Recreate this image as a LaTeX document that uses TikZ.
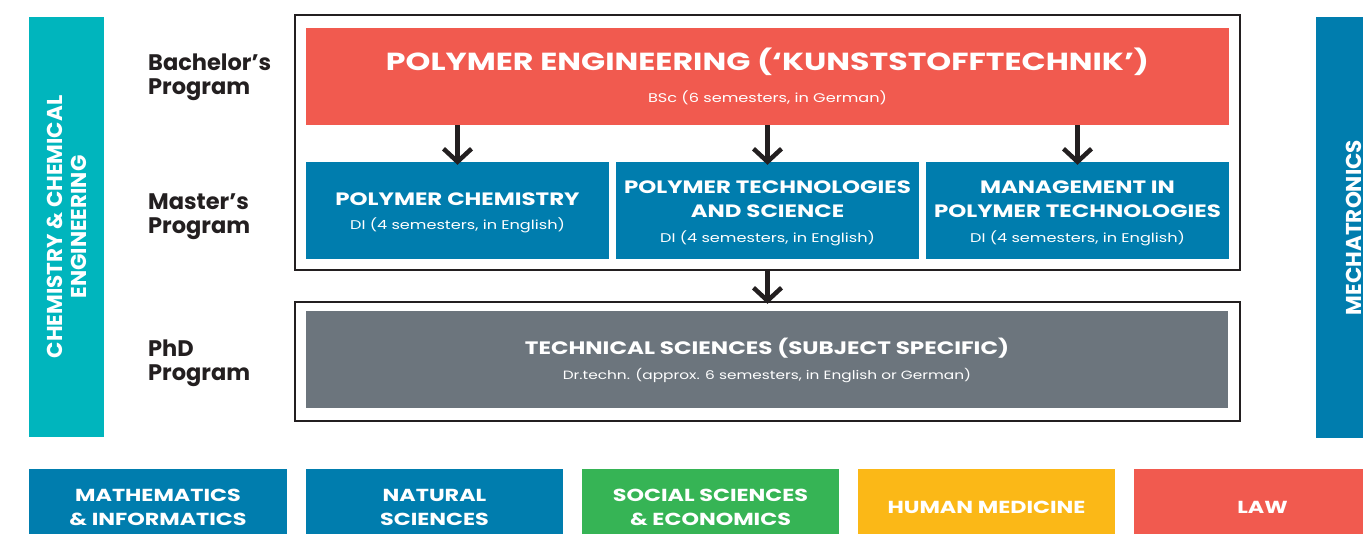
\documentclass[tikz,border=0pt]{standalone}
\usepackage{fontspec}
\setmainfont{Poppins}
\newfontfamily\boxfont[FakeStretch=1.28]{Poppins}
\usetikzlibrary{arrows.meta}
\definecolor{chemteal}{HTML}{00B5BD}
\definecolor{progblue}{HTML}{007DAE}
\definecolor{progred}{HTML}{F15A4F}
\definecolor{proggray}{HTML}{6C757D}
\definecolor{proggreen}{HTML}{36B455}
\definecolor{progyellow}{HTML}{FBB817}
\definecolor{framegray}{HTML}{231F20}
\newcommand{\progsub}[1]{{\mdseries\fontsize{12.6}{16}\selectfont #1}}
\newcommand{\topstrut}{\rule{0pt}{18pt}}

\tikzset{
	progbox/.style={draw=none, text=white, inner sep=0pt, align=center, minimum height=97pt, font=\boxfont\bfseries\fontsize{17.9}{24}\selectfont},
	framebox/.style={draw=framegray, line width=2.4pt, inner sep=0pt, minimum width=945pt},
	sidebar/.style={text=white, inner sep=0pt, align=center, rotate=90, font=\bfseries\fontsize{21.5}{24}\selectfont},
	facbox/.style={text=white, inner sep=0pt, align=center, minimum height=76pt, minimum width=257pt, font=\boxfont\bfseries\fontsize{17.4}{24}\selectfont},
	levellabel/.style={anchor=west, align=left, inner sep=0pt, text=framegray, font=\bfseries\fontsize{22.5}{24}\selectfont},
	flowarrow/.style={draw=framegray, line width=4.5pt, -{Straight Barb[length=13pt, width=28pt]}}
}

\begin{document}
\begin{tikzpicture}[x=1pt,y=-1pt]
	\useasboundingbox (0,0) rectangle (1363,533);

	% frames
	\node[framebox, minimum height=255pt] (bmframe) at (767.5,142.5) {};
	\node[framebox, minimum height=119pt] (phdframe) at (767.5,361.5) {};

	% programs
	\node[progbox, fill=progred, minimum width=923pt, font=\boxfont\bfseries\fontsize{24.7}{24}\selectfont] (bsc) at (767.5,76.5)
		{\rule{0pt}{21pt}POLYMER ENGINEERING (‘KUNSTSTOFFTECHNIK’)\\[8pt]\progsub{BSc (6 semesters, in German)}};
	\node[progbox, fill=progblue, minimum width=303pt] (pc) at (457.5,210.5)
		{\topstrut POLYMER CHEMISTRY\\[0pt]\progsub{DI (4 semesters, in English)}};
	\node[progbox, fill=progblue, minimum width=303pt] (pts) at (767.5,210.5)
		{\topstrut POLYMER TECHNOLOGIES\\AND SCIENCE\\[1pt]\progsub{DI (4 semesters, in English)}};
	\node[progbox, fill=progblue, minimum width=303pt] (mpt) at (1077.5,210.5)
		{\topstrut MANAGEMENT IN\\POLYMER TECHNOLOGIES\\[1pt]\progsub{DI (4 semesters, in English)}};
	\node[progbox, fill=proggray, minimum width=922pt, font=\boxfont\bfseries\fontsize{18}{24}\selectfont] (tsc) at (767,359.5)
		{\topstrut TECHNICAL SCIENCES (SUBJECT SPECIFIC)\\[1pt]{\mdseries\fontsize{12}{16}\selectfont Dr.techn. (approx. 6 semesters, in English or German)}};

	% level labels
	\node[levellabel] (bachelor) at (148,77) {Bachelor’s\\Program};
	\node[levellabel] (master) at (148,217) {Master’s\\Program};
	\node[levellabel] (phd) at (148,363) {PhD\\Program};

	% side bars
	\node[fill=chemteal, minimum width=75pt, minimum height=420pt] (chembar) at (66.5,227) {};
	\node[sidebar] (chemtext) at (chembar.center) {CHEMISTRY \& CHEMICAL\\ENGINEERING};
	\node[fill=progblue, minimum width=75pt, minimum height=421pt] (mechbar) at (1353.5,227.5) {};
	\node[sidebar] (mechtext) at (mechbar.center) {MECHATRONICS};

	% faculties
	\node[facbox, fill=progblue, minimum width=258pt] (math) at (158,507) {MATHEMATICS\\\& INFORMATICS};
	\node[facbox, fill=progblue] (nat) at (434.5,507) {NATURAL\\SCIENCES};
	\node[facbox, fill=proggreen] (soc) at (710.5,507) {SOCIAL SCIENCES\\\& ECONOMICS};
	\node[facbox, fill=progyellow] (med) at (986.5,507) {HUMAN MEDICINE};
	\node[facbox, fill=progred] (law) at (1262.5,507) {LAW};

	% arrows
	\draw[flowarrow] (pc |- bsc.south) -- ([yshift=-3pt]pc.north);
	\draw[flowarrow] (pts |- bsc.south) -- ([yshift=-3pt]pts.north);
	\draw[flowarrow] (mpt |- bsc.south) -- ([yshift=-3pt]mpt.north);
	\draw[flowarrow] (bmframe.south) -- ([yshift=-3pt]phdframe.north);
\end{tikzpicture}
\end{document}
